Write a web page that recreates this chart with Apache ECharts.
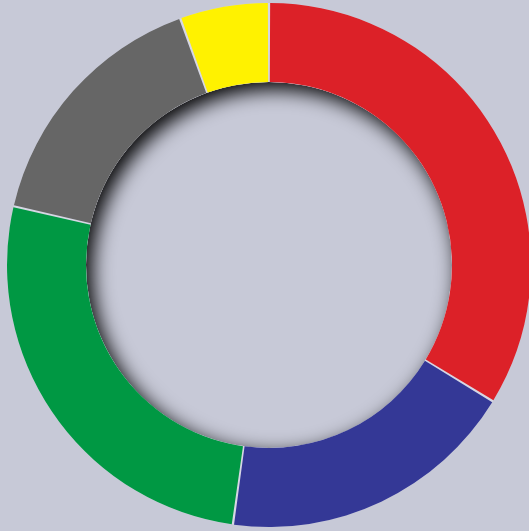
<!DOCTYPE html>
<html>
<head>
<meta charset="utf-8">
<script src="https://cdn.jsdelivr.net/npm/echarts@6/dist/echarts.min.js"></script>
<style>
html,body{margin:0;padding:0;background:#c7c9d7;}
#main{width:529px;height:531px;}
</style>
</head>
<body>
<div id="main"></div>
<script>
const categories = ['Red', 'Blue', 'Green', 'Gray', 'Yellow'];
const values = [33.7, 18.5, 26.4, 15.9, 5.5];
const colors = ['#dc2128', '#343896', '#009843', '#666666', '#fff200'];

const chart = echarts.init(document.getElementById('main'));
chart.setOption({
  backgroundColor: '#c7c9d7',
  animation: false,
  series: [
    {
      type: 'pie',
      silent: true,
      radius: [183, 220],
      center: [269, 265],
      label: { show: false },
      labelLine: { show: false },
      itemStyle: {
        color: '#d6d7e4',
        shadowColor: 'rgba(0,0,0,1)',
        shadowBlur: 20,
        shadowOffsetX: 6,
        shadowOffsetY: 7
      },
      data: [{ value: 1, name: 'shadow' }]
    },
    {
      type: 'pie',
      silent: true,
      radius: [183, 262],
      center: [269, 265],
      label: { show: false },
      labelLine: { show: false },
      itemStyle: { color: '#d6d7e4' },
      data: [{ value: 1, name: 'gap' }]
    },
    {
      type: 'pie',
      radius: [183, 262],
      center: [269, 265],
      startAngle: 90,
      clockwise: true,
      padAngle: 0.5,
      label: { show: false },
      labelLine: { show: false },
      itemStyle: {
        borderWidth: 0
      },
      data: categories.map((c, i) => ({
        name: c,
        value: values[i],
        itemStyle: { color: colors[i] }
      }))
    }
  ]
});
</script>
</body>
</html>
